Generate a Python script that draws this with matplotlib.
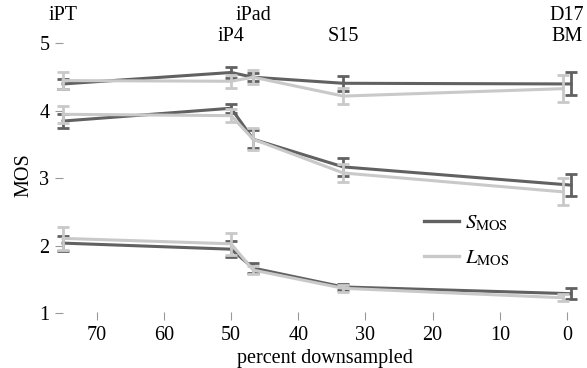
import numpy as np
import matplotlib
matplotlib.use("Agg")
import matplotlib.pyplot as plt
import matplotlib.transforms as mtransforms

plt.rcParams['font.family'] = ['Liberation Serif', 'DejaVu Serif']
plt.rcParams['mathtext.fontset'] = 'stix'

# percent downsampled for each device (S and L nudged apart at 0)
x_s = [75, 50, 46.7, 33.3, -0.6]
x_l = [75, 50, 46.7, 33.3, 0.6]

# three test conditions, S_MOS and L_MOS with error half-widths
s_top = [4.40, 4.57, 4.50, 4.41, 4.40]
s_top_err = [0.08, 0.08, 0.06, 0.11, 0.17]
l_top = [4.45, 4.44, 4.50, 4.22, 4.33]
l_top_err = [0.12, 0.10, 0.10, 0.12, 0.20]

s_mid = [3.85, 4.04, 3.58, 3.17, 2.90]
s_mid_err = [0.11, 0.07, 0.13, 0.13, 0.16]
l_mid = [3.95, 3.93, 3.58, 3.08, 2.80]
l_mid_err = [0.13, 0.10, 0.16, 0.13, 0.20]

s_low = [2.04, 1.95, 1.67, 1.39, 1.29]
s_low_err = [0.11, 0.12, 0.07, 0.05, 0.08]
l_low = [2.11, 2.03, 1.64, 1.37, 1.23]
l_low_err = [0.17, 0.16, 0.06, 0.05, 0.05]

device_names = ['iPT', 'iPad', 'D17', 'iP4', 'S15', 'BM']
device_x = [75, 46.7, 0, 50, 33.3, 0]
device_row = [0, 0, 0, 1, 1, 1]

dark = '#616161'
light = '#c9c9c9'

fig = plt.figure(figsize=(5.87, 3.68), dpi=100)
ax = fig.add_axes([55 / 587, 1 - 320 / 368, 525 / 587, 290 / 368])

for s, se in [(s_top, s_top_err), (s_mid, s_mid_err), (s_low, s_low_err)]:
    ax.errorbar(x_s, s, yerr=se, color=dark, lw=2.2, elinewidth=2.0,
                capsize=4, capthick=2.0, zorder=2)
for l, le in [(l_top, l_top_err), (l_mid, l_mid_err), (l_low, l_low_err)]:
    ax.errorbar(x_l, l, yerr=le, color=light, lw=2.2, elinewidth=2.0,
                capsize=4, capthick=2.0, zorder=3)

ax.set_xlim(76.2, -1.93)
ax.set_ylim(0.90, 5.20)
ax.set_xticks([70, 60, 50, 40, 30, 20, 10, 0])
ax.set_yticks([1, 2, 3, 4, 5])
for sp in ax.spines.values():
    sp.set_visible(False)
ax.tick_params(axis='both', direction='in', length=6, width=0.8,
               color='#999999', labelsize=14.5, pad=4)
ax.set_xlabel('percent downsampled', fontsize=14.5, labelpad=1)
ax.xaxis.set_label_coords(0.514, -0.1)
ax.set_ylabel('MOS', fontsize=14.5, labelpad=4)

# device names above the plot, two staggered rows
trans = mtransforms.blended_transform_factory(ax.transData, fig.transFigure)
for name, xv, row in zip(device_names, device_x, device_row):
    ax.text(xv, [0.958, 0.902][row], name, transform=trans, fontsize=14.5,
            ha='center', va='center')

s_line = plt.Line2D([], [], color=dark, lw=2.4)
l_line = plt.Line2D([], [], color=light, lw=2.4)
ax.legend([s_line, l_line], [r'$S_{\mathrm{MOS}}$', r'$L_{\mathrm{MOS}}$'],
          loc='center left', bbox_to_anchor=(0.69, 0.345),
          bbox_transform=fig.transFigure, frameon=False, fontsize=15,
          handlelength=1.7, handletextpad=0.3, labelspacing=0.75)

fig.savefig('out.png', dpi=100)
